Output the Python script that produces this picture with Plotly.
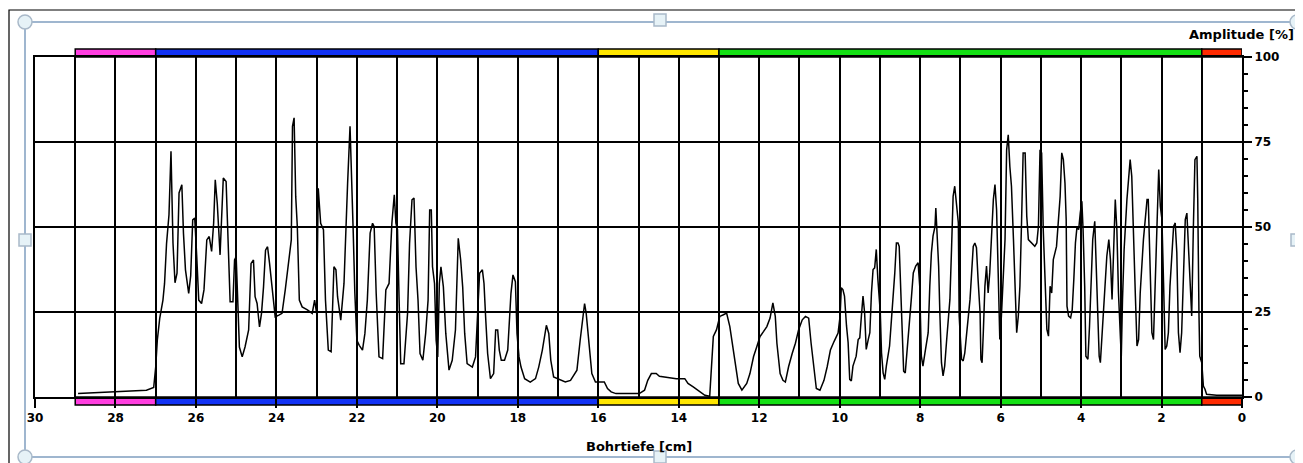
import plotly.graph_objects as go

# ---- data ----
depth_cm = [
    28.93, 27.23, 27.05,
    27.0, 26.96, 26.9, 26.82, 26.78, 26.73, 26.67, 26.62, 26.57, 26.52, 26.47, 26.42, 26.35,
    26.31, 26.26, 26.18, 26.13, 26.08, 26.03, 25.98, 25.93, 25.86, 25.8, 25.73, 25.67, 25.61,
    25.56, 25.52, 25.47, 25.4, 25.32, 25.25, 25.19, 25.15, 25.08, 25.04, 25.0, 24.96, 24.92,
    24.85, 24.78, 24.69, 24.63, 24.57, 24.53, 24.48, 24.42, 24.37, 24.32, 24.27, 24.22, 24.17,
    24.11, 24.03, 23.94, 23.86, 23.78, 23.69, 23.63, 23.6, 23.56, 23.52, 23.48, 23.43, 23.36,
    23.23, 23.11, 23.05, 23.0, 22.96, 22.9, 22.83, 22.78, 22.71, 22.64, 22.57, 22.52, 22.48,
    22.4, 22.32,
    22.27, 22.23, 22.17, 22.13, 22.09, 22.05, 22.0, 21.94, 21.86, 21.8, 21.74, 21.67, 21.61,
    21.57, 21.52, 21.45, 21.36, 21.28, 21.2, 21.13, 21.07, 21.03, 20.99, 20.95, 20.91, 20.83,
    20.74, 20.69, 20.63, 20.58, 20.53, 20.48, 20.43, 20.36, 20.29, 20.23, 20.19, 20.15, 20.12,
    20.07, 20.03, 19.99, 19.95, 19.91, 19.85, 19.79, 19.71, 19.63, 19.55, 19.48, 19.42, 19.37,
    19.32, 19.26, 19.13, 19.05, 19.0, 18.95, 18.88, 18.84, 18.8, 18.75, 18.68, 18.6, 18.55,
    18.5, 18.46, 18.41, 18.33, 18.25, 18.17, 18.12, 18.06, 18.02, 17.97, 17.92, 17.83, 17.69,
    17.56, 17.48, 17.39, 17.29, 17.23, 17.18, 17.11, 16.94, 16.82, 16.69, 16.53, 16.45, 16.38,
    16.34, 16.3, 16.25, 16.16, 16.07,
    15.96, 15.85, 15.77, 15.68, 15.56, 14.98, 14.85, 14.77, 14.68, 14.56, 14.48, 14.31, 14.06,
    13.85, 13.77, 13.64, 13.48, 13.35, 13.23, 13.18, 13.14, 13.06, 12.98, 12.89, 12.81, 12.73,
    12.68, 12.6, 12.52, 12.43, 12.31, 12.23, 12.14, 12.06, 11.98, 11.89, 11.81, 11.73, 11.66,
    11.6, 11.56, 11.48, 11.41, 11.35, 11.27, 11.18, 11.1, 11.02, 10.93, 10.85, 10.77, 10.71,
    10.64, 10.58, 10.49, 10.39, 10.31, 10.23, 10.14, 10.04, 9.99, 9.96, 9.92,
    9.88, 9.83, 9.79, 9.75, 9.71, 9.67, 9.59, 9.54, 9.5, 9.46, 9.42, 9.38, 9.34, 9.29, 9.25,
    9.21, 9.17, 9.13, 9.09, 9.05, 9.02, 8.99, 8.96, 8.92, 8.88, 8.84, 8.76, 8.71, 8.67, 8.63,
    8.59, 8.55, 8.52, 8.49, 8.46, 8.44, 8.41, 8.37, 8.34, 8.3, 8.26, 8.22, 8.17, 8.11, 8.05,
    8.01, 7.97, 7.93, 7.88, 7.8, 7.76, 7.72, 7.68, 7.63, 7.61, 7.58, 7.54, 7.51, 7.47, 7.43,
    7.39, 7.34, 7.26, 7.22, 7.18, 7.14, 7.1, 7.05, 7.03, 7.0, 6.97, 6.93, 6.89, 6.85, 6.8,
    6.76, 6.72, 6.68, 6.64, 6.6, 6.56, 6.51, 6.49, 6.46, 6.43, 6.39, 6.35, 6.31, 6.27, 6.22,
    6.18, 6.14, 6.1, 6.06, 6.02, 5.98, 5.93, 5.89, 5.85, 5.81, 5.77, 5.73, 5.68, 5.64, 5.6,
    5.56, 5.52, 5.48, 5.44, 5.39, 5.35, 5.31, 5.23, 5.15, 5.1, 5.06, 5.02, 4.98, 4.94, 4.9,
    4.85, 4.81, 4.77, 4.73, 4.69, 4.61, 4.56, 4.52, 4.48, 4.44, 4.4,
    4.37, 4.35, 4.31, 4.26, 4.22, 4.18, 4.14, 4.1, 4.06, 4.02, 3.98, 3.95, 3.91, 3.88, 3.83,
    3.79, 3.75, 3.71, 3.66, 3.63, 3.59, 3.55, 3.52, 3.48, 3.44, 3.4, 3.36, 3.31, 3.27, 3.23,
    3.19, 3.15, 3.11, 3.07, 3.02, 3.0, 2.97, 2.93, 2.86, 2.78, 2.74, 2.69, 2.65, 2.61, 2.57,
    2.53, 2.49, 2.45, 2.36, 2.33, 2.28, 2.24, 2.2, 2.16, 2.12, 2.07, 2.03, 1.99, 1.95, 1.91,
    1.87, 1.83, 1.79, 1.74, 1.7, 1.66, 1.62, 1.58, 1.54, 1.5, 1.45, 1.41, 1.37, 1.33, 1.29,
    1.25, 1.21, 1.17, 1.12, 1.1, 1.07, 1.05, 1.0, 0.96, 0.92, 0.88, 0.63, 0.0,
]
amplitude_pct = [
    1.0, 2.0, 2.8,
    8.8, 16.7, 23.1, 28.5, 33.4, 45.2, 53.6, 72.3, 45.2, 33.6, 36.4, 60.0, 62.4,
    48.2, 37.4, 30.5, 35.7, 52.1, 52.6, 41.3, 28.5, 27.5, 31.5, 46.2, 47.2, 42.8,
    51.1, 63.9, 57.0, 41.8, 64.4, 63.4, 40.3, 28.0, 28.0, 40.3, 41.3, 28.5, 14.7,
    11.8, 14.7, 19.7, 39.3, 40.3, 29.5, 27.5, 20.6, 24.6, 32.4, 43.2, 44.2, 39.3,
    32.4, 23.6, 24.1, 24.6, 31.5, 41.3, 46.2, 79.6, 82.1, 59.0, 50.1, 28.5, 26.5,
    25.6, 24.6, 28.5, 24.6, 61.4, 51.1, 49.2, 28.5, 13.8, 13.3, 38.3, 37.4, 29.5,
    22.6, 33.4,
    52.1, 62.9, 79.6, 66.8, 48.2, 30.5, 16.7, 15.2, 13.8, 18.7, 28.5, 48.2, 51.1,
    50.1, 30.5, 11.8, 11.3, 31.5, 33.4, 51.1, 59.5, 51.1, 49.2, 28.5, 9.8, 9.8,
    24.6, 45.2, 58.0, 58.5, 38.3, 28.5, 12.8, 10.8, 18.7, 28.5, 55.0, 55.0, 38.3,
    33.4, 16.7, 11.8, 33.4, 38.3, 32.4, 18.7, 7.9, 10.8, 19.7, 46.7, 40.3, 32.4,
    18.7, 9.8, 8.8, 11.8, 25.1, 36.4, 37.4, 33.4, 23.6, 12.8, 5.4, 6.9, 19.7,
    19.7, 13.8, 10.8, 10.8, 13.8, 30.5, 35.9, 33.9, 18.7, 11.8, 8.8, 5.4, 4.4,
    5.4, 8.8, 13.8, 21.1, 18.7, 10.8, 5.9, 4.9, 4.4, 4.9, 7.9, 16.7, 24.6,
    27.5, 24.6, 17.7, 6.9, 4.4,
    4.4, 4.4, 2.5, 1.5, 1.0, 1.0, 2.0, 4.9, 6.9, 6.9, 6.1, 5.9, 5.4,
    5.4, 4.0, 3.0, 1.5, 0.5, 0.2, 9.9, 17.8, 19.8, 23.7, 24.2, 24.7, 20.7,
    16.8, 10.9, 4.0, 2.0, 4.0, 6.9, 11.9, 14.8, 17.8, 19.3, 20.7, 23.2, 27.7,
    23.7, 15.8, 6.9, 4.9, 4.4, 8.9, 12.8, 15.8, 19.8, 22.7, 23.7, 23.2, 15.8,
    7.9, 2.5, 2.0, 4.9, 8.9, 13.8, 16.3, 18.8, 23.7, 32.1, 31.6,
    29.7, 20.9, 16.0, 5.2, 4.7, 9.1, 12.0, 16.9, 17.4, 23.8, 29.7, 24.8, 14.0, 16.9, 18.9,
    30.6, 37.5, 38.0, 43.4, 34.6, 27.7, 24.8, 13.0, 7.1, 5.2, 9.1, 15.0, 22.8, 28.7, 36.5,
    45.3, 45.3, 44.3, 33.6, 26.7, 16.9, 7.6, 7.1, 11.1, 16.0, 20.9, 28.7, 36.5, 38.5, 39.5,
    32.6, 12.0, 9.1, 13.0, 18.9, 32.6, 42.4, 47.3, 50.2, 55.6, 47.3, 38.5, 24.8, 10.1, 6.2,
    9.1, 16.9, 28.7, 43.4, 59.0, 62.0, 56.1, 51.2, 23.8, 18.9, 11.1, 10.6, 13.0, 17.9, 23.8,
    28.7, 36.5, 44.3, 45.3, 43.9, 34.6, 24.8, 11.1, 10.1, 18.9, 32.6, 38.5, 30.6, 36.5, 49.2,
    58.1, 62.5, 55.1, 36.5, 16.9, 23.8, 38.5, 46.3, 72.7, 77.1, 67.8, 62.0, 46.3, 28.7, 18.9,
    23.8, 32.6, 51.2, 71.8, 71.8, 53.2, 46.3, 45.3, 44.3, 45.3, 50.2, 72.7, 71.8, 49.2, 35.5,
    19.9, 17.9, 32.6, 30.6, 40.4, 44.3, 53.2, 59.0, 71.8, 69.8, 62.9,
    52.2, 26.7, 23.8, 23.3, 25.7, 34.6, 45.3, 50.2, 49.2, 54.1, 57.6, 49.2, 32.6, 12.0, 11.1,
    20.9, 36.5, 46.3, 51.7, 41.4, 28.7, 12.0, 10.1, 17.9, 28.7, 36.5, 41.4, 46.3, 40.4, 28.7,
    45.3, 58.1, 49.2, 30.6, 16.9, 12.0, 28.7, 43.4, 58.1, 69.8, 64.9, 41.4, 29.7, 15.0, 16.9,
    30.6, 40.4, 46.3, 58.1, 58.1, 36.5, 18.9, 16.9, 32.6, 48.3, 66.9, 56.1, 52.2, 33.6, 14.0,
    15.0, 18.9, 32.6, 41.4, 50.2, 51.2, 42.4, 18.9, 13.0, 18.9, 38.5, 52.2, 54.1, 44.3, 32.6,
    23.8, 49.2, 69.8, 70.8, 58.1, 24.8, 12.0, 10.1, 3.2, 2.3, 0.8, 0.5, 0.5,
]

# depth zones drawn as coloured bands above and below the plot
zone_from = [29, 27, 16, 13, 1]
zone_to = [27, 16, 13, 1, 0]
zone_colors = ["#ff3ee0", "#1232f5", "#ffe600", "#14e014", "#ff2a00"]

x_ticks = [30, 28, 26, 24, 22, 20, 18, 16, 14, 12, 10, 8, 6, 4, 2, 0]
y_ticks = [0, 25, 50, 75, 100]

# ---- figure (page body has an 8px margin, so sizes are shifted by it) ----
OFF = 8
W, H = 1303 - OFF, 463 - OFF
PL, PR, PT, PB = 35, 1242, 57, 397          # plot area in window pixels
ML, MT = PL - OFF, PT - OFF
MR, MB = (W + OFF) - PR, (H + OFF) - PB
PW, PH = PR - PL, PB - PT


def px(xpix):
    return (xpix - PL) / PW


def py(ypix):
    return (PB - ypix) / PH


fig = go.Figure()
fig.add_trace(go.Scatter(
    x=depth_cm, y=amplitude_pct, mode="lines",
    line=dict(color="black", width=1.5), hoverinfo="skip", showlegend=False,
))

shapes = []
band_h = 8 / PH
for a, b, c in zip(zone_from, zone_to, zone_colors):
    for y0, y1 in ((1.0, 1.0 + band_h), (-band_h, 0.0)):
        shapes.append(dict(type="rect", xref="x", yref="paper", x0=a, x1=b, y0=y0, y1=y1,
                           fillcolor=c, line=dict(color="black", width=1.5), layer="below"))

# screenshot frame (outer black border and selection frame with handles)
shapes.append(dict(type="rect", xref="paper", yref="paper", x0=px(9), x1=px(1320), y0=py(10), y1=py(480),
                   line=dict(color="black", width=1.2), fillcolor="rgba(0,0,0,0)", layer="below"))
shapes.append(dict(type="rect", xref="paper", yref="paper", x0=px(25), x1=px(1297), y0=py(22), y1=py(457),
                   line=dict(color="#9fb6cf", width=2), fillcolor="rgba(0,0,0,0)", layer="above"))
for cx, cy in ((25, 22), (1297, 22), (25, 457), (1297, 457)):
    shapes.append(dict(type="circle", xref="paper", yref="paper",
                       x0=px(cx - 7), x1=px(cx + 7), y0=py(cy + 7), y1=py(cy - 7),
                       line=dict(color="#a9b9c9", width=1.5), fillcolor="#e6f2f7", layer="above"))
for cx, cy in ((660, 20), (660, 457), (25, 240), (1297, 240)):
    shapes.append(dict(type="rect", xref="paper", yref="paper",
                       x0=px(cx - 6), x1=px(cx + 6), y0=py(cy + 6), y1=py(cy - 6),
                       line=dict(color="#a9b9c9", width=1.5), fillcolor="#e6f2f7", layer="above"))

FONT = "DejaVu Sans, Arial, sans-serif"
font_ax = dict(family=FONT, size=12, color="black", weight="bold")

fig.update_layout(
    width=W, height=H,
    margin=dict(l=ML, r=MR, t=MT, b=MB, pad=0),
    paper_bgcolor="white", plot_bgcolor="white",
    showlegend=False,
    shapes=shapes,
    xaxis=dict(
        range=[30, 0], tickvals=x_ticks, ticktext=[str(v) for v in x_ticks],
        showgrid=True, gridcolor="black", gridwidth=2,
        minor=dict(dtick=1, showgrid=True, gridcolor="black", gridwidth=2, ticks=""),
        ticks="outside", ticklen=9, tickwidth=1.5, tickcolor="black",
        showline=True, mirror=True, linecolor="black", linewidth=2,
        zeroline=False, tickfont=font_ax, fixedrange=True,
    ),
    yaxis=dict(
        range=[0, 100], side="right", tickvals=y_ticks, ticktext=[str(v) for v in y_ticks],
        showgrid=True, gridcolor="black", gridwidth=2,
        minor=dict(dtick=5, ticks="outside", ticklen=4, tickcolor="black", tickwidth=1.5, showgrid=False),
        ticks="outside", ticklen=8, tickwidth=1.5, tickcolor="black",
        showline=True, mirror=True, linecolor="black", linewidth=2,
        zeroline=False, tickfont=font_ax, fixedrange=True,
    ),
    annotations=[
        dict(text="<b>Bohrtiefe [cm]</b>", xref="paper", yref="paper", x=0.5, y=py(446),
             showarrow=False, xanchor="center", yanchor="middle",
             font=dict(family=FONT, size=13, color="black")),
        dict(text="<b>Amplitude [%]</b>", xref="paper", yref="paper", x=px(1296), y=py(34),
             showarrow=False, xanchor="right", yanchor="middle",
             font=dict(family=FONT, size=13, color="black")),
    ],
)

fig.write_html("out.html")
